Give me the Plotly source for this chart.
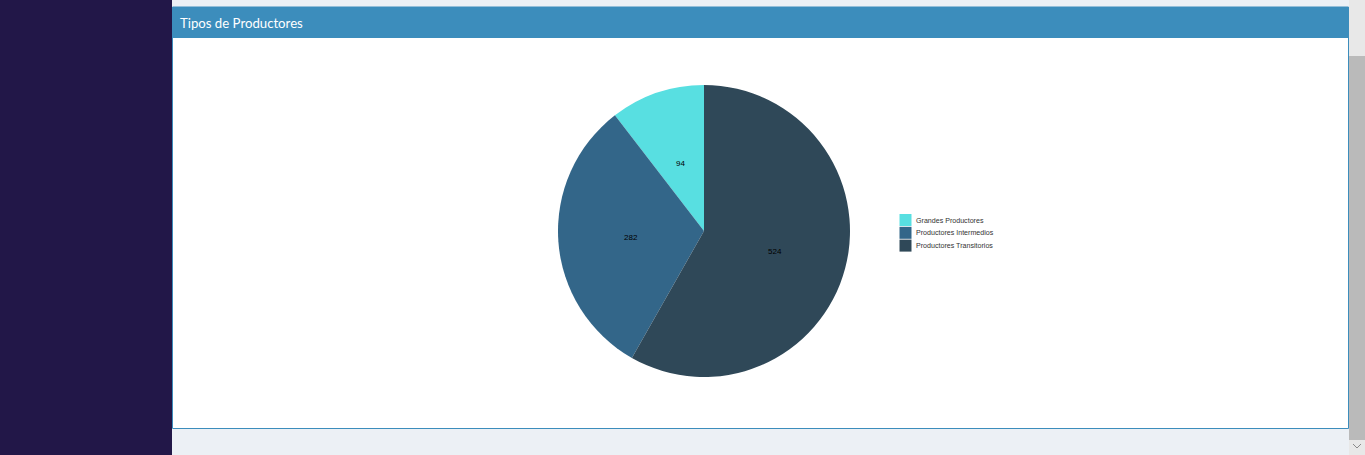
import math
import plotly.graph_objects as go

W, H = 1365, 455

categories = ["Grandes Productores", "Productores Intermedios", "Productores Transitorios"]
values = [94, 282, 524]
colors = ["#58dfe1", "#336689", "#2f4858"]
title_text = "Tipos de Productores"


def px(x):
    return x / W


def py(y):
    return 1 - y / H


# pie geometry (pixels)
CX, CY, R = 704, 231, 146
total = sum(values)

fig = go.Figure()
fig.add_trace(go.Pie(
    labels=categories,
    values=values,
    sort=False,
    direction="counterclockwise",
    rotation=-values[0] / total * 360,
    marker=dict(colors=colors, line=dict(width=0)),
    textinfo="none",
    domain=dict(x=[px(CX - R), px(CX + R)], y=[py(CY + R), py(CY - R)]),
    hoverinfo="label+value+percent",
    showlegend=False,
))

annotations = [
    dict(text=title_text, x=px(177.5), y=py(23), xref="paper", yref="paper",
         xanchor="left", yanchor="middle", showarrow=False,
         font=dict(family="Lato", size=13.2, color="#ffffff")),
]

# value labels at half radius along each slice's mid-angle (counterclockwise from 12 o'clock)
cum = 0
for v in values:
    mid = (cum + v / 2) / total * 2 * math.pi
    cum += v
    lx = CX - 0.5 * R * math.sin(mid)
    ly = CY - 0.5 * R * math.cos(mid) + 1.5
    annotations.append(dict(text=str(v), x=px(lx), y=py(ly), xref="paper", yref="paper",
                            xanchor="center", yanchor="middle", showarrow=False,
                            font=dict(family="Arial", size=8, color="#000000")))

shapes = [
    # sidebar
    dict(type="rect", x0=0, x1=px(172), y0=0, y1=1, fillcolor="#221748", line_width=0, layer="below"),
    # panel body
    dict(type="rect", x0=px(172.5), x1=px(1348.5), y0=py(428.5), y1=py(7), fillcolor="#ffffff",
         line=dict(color="#3c8dbc", width=1), layer="below"),
    # header
    dict(type="rect", x0=px(172), x1=px(1349), y0=py(38), y1=py(7), fillcolor="#3c8dbc", line_width=0, layer="below"),
    # scrollbar track
    dict(type="rect", x0=px(1349), x1=1, y0=0, y1=1, fillcolor="#e8e8e8", line_width=0, layer="below"),
    # scrollbar thumb
    dict(type="rect", x0=px(1349), x1=1, y0=py(440), y1=py(56), fillcolor="#bababa", line_width=0, layer="below"),
    # arrow
    dict(type="path", path=f"M {px(1353)} {py(444)} L {px(1357)} {py(448)} L {px(1361)} {py(444)}",
         line=dict(color="#8a8a8a", width=1)),
]

# legend (drawn as swatches + text)
LX, LY, SW, PITCH = 899.5, 214, 12, 12.8
for i, (cat, col) in enumerate(zip(categories, colors)):
    top = LY + i * PITCH
    shapes.append(dict(type="rect", x0=px(LX), x1=px(LX + SW), y0=py(top + SW), y1=py(top),
                       fillcolor=col, line_width=0))
    annotations.append(dict(text=cat, x=px(914.5), y=py(top + SW / 2 + 0.5), xref="paper", yref="paper",
                            xanchor="left", yanchor="middle", showarrow=False,
                            font=dict(family="Arial", size=7.1, color="#333333")))

fig.update_layout(
    width=W, height=H,
    margin=dict(l=0, r=0, t=0, b=0),
    paper_bgcolor="#ecf0f5",
    plot_bgcolor="#ecf0f5",
    shapes=shapes,
    annotations=annotations,
    showlegend=False,
)

fig.write_html("out.html",
               config={"displayModeBar": False},
               post_script="document.body.style.margin='0';document.body.style.overflow='hidden';")
